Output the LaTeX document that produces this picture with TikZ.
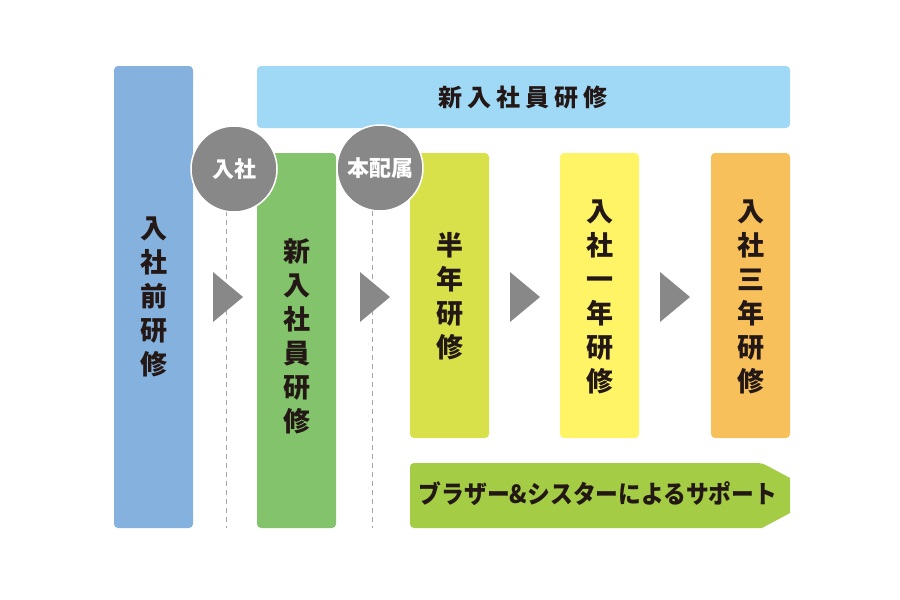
\documentclass[tikz,border=0pt]{standalone}
\usepackage{fontspec}
\usepackage{graphicx}
\newfontfamily\cjk{Noto Sans CJK JP}
\begin{document}
\begin{tikzpicture}[x=1pt,y=-1pt,
  box/.style={rounded corners=4pt, draw=none},
  vtext/.style={align=center, inner sep=0pt, font=\cjk\bfseries\fontsize{27}{34}\selectfont, text=txt},
  ctext/.style={inner sep=0pt, font=\cjk\bfseries\fontsize{22}{24}\selectfont, text=white},
  circ/.style={circle, fill=gray8, draw=white, line width=1.5pt, minimum size=86pt, inner sep=0pt},
  tri/.style={fill=gray8, draw=none}]
\definecolor{txt}{HTML}{231815}
\definecolor{c1}{HTML}{85B1DE}
\definecolor{ctop}{HTML}{A0D9F6}
\definecolor{c2}{HTML}{83C36B}
\definecolor{c3}{HTML}{D8E14A}
\definecolor{c4}{HTML}{FEF466}
\definecolor{c5}{HTML}{F8C05A}
\definecolor{csup}{HTML}{A4CD45}
\definecolor{gray8}{HTML}{888888}
\useasboundingbox (0,0) rectangle (900,600);
\fill[white] (0,0) rectangle (900,600);
% boxes
\fill[box, c1] (114,66) rectangle (193,528);
\fill[box, ctop] (257,66) rectangle (790,128);
\fill[box, c2] (257,153) rectangle (336,528);
\fill[box, c3] (410,153) rectangle (489,438);
\fill[box, c4] (560,153) rectangle (639,438);
\fill[box, c5] (711,153) rectangle (790,438);
\fill[csup, rounded corners=4pt] (410,463) -- (762,463) [sharp corners] -- (790,478) -- (790,513) -- (762,528) [rounded corners=4pt] -- (410,528) -- cycle;
% texts
\node[vtext] (t1) at (154,297) {入\\社\\前\\研\\修};
\node[inner sep=0pt, font=\cjk\bfseries\fontsize{24}{26}\selectfont, text=txt] (ttop) at (523,97) {新\hspace{5pt}入\hspace{5pt}社\hspace{5pt}員\hspace{5pt}研\hspace{5pt}修};
\node[vtext] (t2) at (297,336) {新\\入\\社\\員\\研\\修};
\node[vtext] (t3) at (450,296) {半\\年\\研\\修};
\node[vtext] (t4) at (600,297) {入\\社\\一\\年\\研\\修};
\node[vtext] (t5) at (751,297) {入\\社\\三\\年\\研\\修};
\node[inner sep=0pt, font=\cjk\bfseries\fontsize{25}{28}\selectfont, text=txt] (tsup) at (598,494) {\scalebox{0.91}[1]{ブラザー\&シスターによるサポート}};
% dashed lines
\coordinate (d1a) at (226,211); \coordinate (d1b) at (226,528);
\coordinate (d2a) at (372,211); \coordinate (d2b) at (372,528);
\draw[gray!70, dash pattern=on 5pt off 4pt, line width=0.8pt] (d1a) -- (d1b);
\draw[gray!70, dash pattern=on 5pt off 4pt, line width=0.8pt] (d2a) -- (d2b);
% circles
\node[circ] (c1n) at (234,169) {};
\node[ctext] at (c1n) {入社};
\node[circ] (c2n) at (380,168) {};
\node[ctext] at (c2n) {本配属};
% triangles
\fill[tri] (213,272) -- (243,297) -- (213,322) -- cycle;
\fill[tri] (360,272) -- (390,297) -- (360,322) -- cycle;
\fill[tri] (510,272) -- (540,297) -- (510,322) -- cycle;
\fill[tri] (660,272) -- (690,297) -- (660,322) -- cycle;
\end{tikzpicture}
\end{document}
